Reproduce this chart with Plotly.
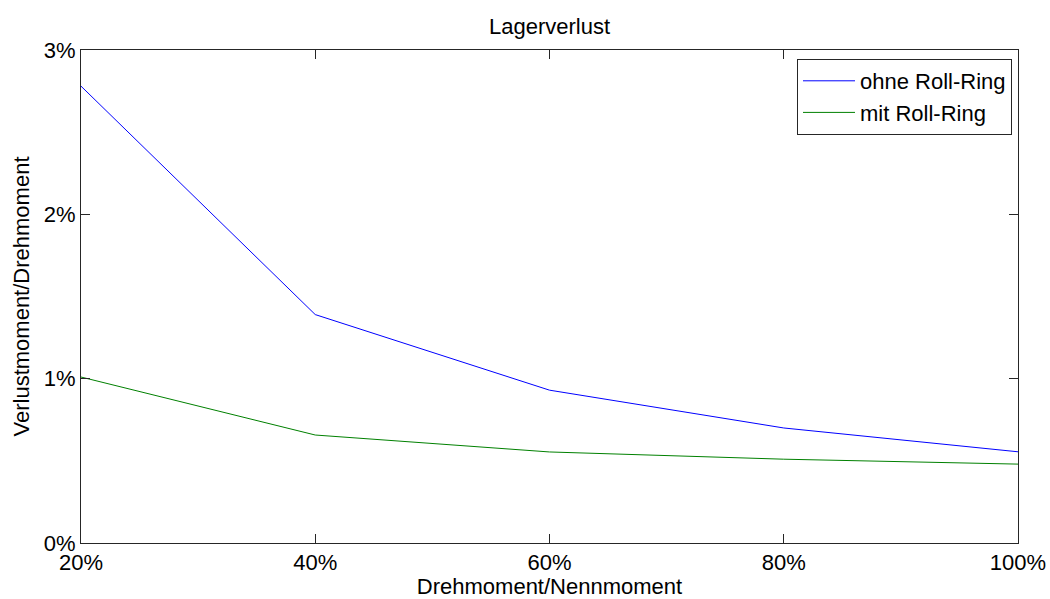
import plotly.graph_objects as go

# Load ratio (torque / rated torque), in %
last_pct = [20, 40, 60, 80, 100]
# Loss torque / torque, in %
ohne_roll_ring = [2.78, 1.39, 0.93, 0.70, 0.555]
mit_roll_ring = [1.01, 0.657, 0.554, 0.51, 0.48]

x_ticks = [20, 40, 60, 80, 100]
x_tick_text = ["20%", "40%", "60%", "80%", "100%"]
y_ticks = [0, 1, 2, 3]
y_tick_text = ["0%", "1%", "2%", "3%"]

FONT = "Liberation Sans, Arial, sans-serif"
AXIS_COLOR = "#262626"

fig = go.Figure()
fig.add_trace(go.Scatter(x=last_pct, y=ohne_roll_ring, mode="lines",
                         name="ohne Roll-Ring",
                         line=dict(color="#0000ff", width=1)))
fig.add_trace(go.Scatter(x=last_pct, y=mit_roll_ring, mode="lines",
                         name="mit Roll-Ring",
                         line=dict(color="#008000", width=1)))

axis_common = dict(
    showgrid=False, zeroline=False, showline=True, linecolor=AXIS_COLOR,
    linewidth=1, mirror="ticks", ticks="inside", ticklen=9,
    tickcolor=AXIS_COLOR, tickwidth=1, automargin=False,
    tickfont=dict(family=FONT, size=22, color="black"),
)

fig.update_layout(
    width=1050, height=599,
    margin=dict(l=81, r=32, t=50, b=56),
    paper_bgcolor="white", plot_bgcolor="white",
    font=dict(family=FONT, color="black"),
    title=dict(text="Lagerverlust", x=0.5, xref="paper", xanchor="center",
               y=1 - 26 / 599, yanchor="middle",
               font=dict(family=FONT, size=22, color="black")),
    xaxis=dict(range=[20, 100], tickvals=x_ticks, ticktext=x_tick_text,
               title=dict(text="Drehmoment/Nennmoment", standoff=2,
                          font=dict(family=FONT, size=22, color="black")),
               **axis_common),
    yaxis=dict(range=[0, 3], tickvals=y_ticks, ticktext=y_tick_text,
               title=dict(text="Verlustmoment/Drehmoment", standoff=8,
                          font=dict(family=FONT, size=22, color="black")),
               **axis_common),
    legend=dict(x=(1012 - 81) / 937, y=(543 - 59) / 493,
                xanchor="right", yanchor="top",
                bgcolor="white", bordercolor=AXIS_COLOR, borderwidth=1,
                font=dict(family=FONT, size=22, color="black"),
                tracegroupgap=0, itemwidth=52),
    showlegend=True,
)

fig.write_html("out.html")
